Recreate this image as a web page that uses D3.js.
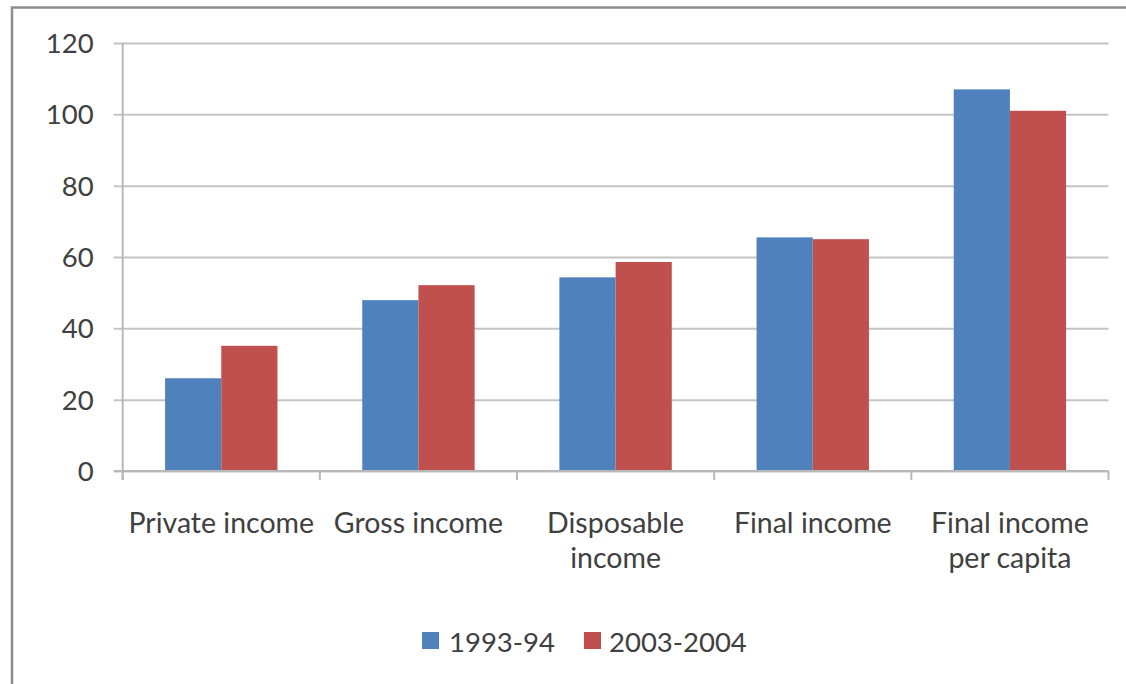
<!DOCTYPE html>
<html>
<head>
<meta charset="utf-8">
<script src="https://cdn.jsdelivr.net/npm/d3@7"></script>
<style>
  html, body { margin: 0; padding: 0; background: #fff; }
  svg { display: block; }
  text { font-family: Lato, "Open Sans", sans-serif; fill: #404040; }
</style>
</head>
<body>
<svg id="chart" width="1126" height="684"></svg>
<script>
// Income categories (line breaks mark where the axis label wraps)
const categories = [
  "Private income",
  "Gross income",
  "Disposable\nincome",
  "Final income",
  "Final income\nper capita"
];
const seriesNames = ["1993-94", "2003-2004"];
const values1993 = [26, 47.9, 54.3, 65.5, 107];
const values2003 = [35.1, 52.1, 58.6, 65, 101];
const yTicks = [0, 20, 40, 60, 80, 100, 120];
const colors = ["#4F81BD", "#C0504D"];

const svg = d3.select("#chart");

// outer chart frame (right and bottom edges fall outside the view)
svg.append("rect")
  .attr("x", 12).attr("y", 7.5)
  .attr("width", 1200).attr("height", 800)
  .attr("fill", "#fff")
  .attr("stroke", "#8c8c8c")
  .attr("stroke-width", 2.5);

const plot = { left: 122.7, right: 1108.5, top: 43, bottom: 471 };

const x0 = d3.scaleBand()
  .domain(categories)
  .range([plot.left, plot.right])
  .paddingInner(0.43)
  .paddingOuter(0.215);

const x1 = d3.scaleBand()
  .domain(seriesNames)
  .range([0, x0.bandwidth()]);

const y = d3.scaleLinear()
  .domain([0, 120])
  .range([plot.bottom, plot.top]);

// horizontal gridlines with small outside ticks
const yAxis = d3.axisLeft(y)
  .tickValues(yTicks)
  .tickSize(-(plot.right - plot.left))
  .tickPadding(30)
  .tickFormat(d3.format("d"));

const gy = svg.append("g")
  .attr("transform", `translate(${plot.left},0)`)
  .call(yAxis);
gy.select(".domain").remove();
gy.selectAll(".tick line")
  .attr("x1", -9)
  .attr("stroke", "#c4c4c4")
  .attr("stroke-width", 2);
gy.selectAll(".tick text")
  .attr("x", -29)
  .attr("dy", "0.35em")
  .style("font-size", "27.5px")
  .style("fill", "#404040");

// vertical value axis line
svg.append("line")
  .attr("x1", plot.left).attr("x2", plot.left)
  .attr("y1", plot.top).attr("y2", plot.bottom + 9)
  .attr("stroke", "#b8b8b8").attr("stroke-width", 2);

// bars
const rows = categories.map((c, i) => ({
  category: c,
  vals: [values1993[i], values2003[i]]
}));

const groups = svg.append("g").selectAll("g")
  .data(rows)
  .join("g")
  .attr("transform", d => `translate(${x0(d.category)},0)`);

groups.selectAll("rect")
  .data(d => d.vals.map((v, j) => ({ name: seriesNames[j], value: v, j })))
  .join("rect")
  .attr("x", d => x1(d.name))
  .attr("y", d => y(d.value))
  .attr("width", x1.bandwidth())
  .attr("height", d => y(0) - y(d.value))
  .attr("fill", d => colors[d.j]);

// category axis: baseline plus boundary ticks
const step = x0.step();
svg.append("line")
  .attr("x1", plot.left - 9).attr("x2", plot.right)
  .attr("y1", plot.bottom).attr("y2", plot.bottom)
  .attr("stroke", "#b8b8b8").attr("stroke-width", 2);
svg.append("g").selectAll("line")
  .data(d3.range(categories.length + 1))
  .join("line")
  .attr("x1", i => plot.left + i * step)
  .attr("x2", i => plot.left + i * step)
  .attr("y1", plot.bottom)
  .attr("y2", plot.bottom + 9)
  .attr("stroke", "#b8b8b8").attr("stroke-width", 2);

// category labels
const labels = svg.append("g").selectAll("text")
  .data(categories)
  .join("text")
  .attr("text-anchor", "middle")
  .attr("x", d => x0(d) + x0.bandwidth() / 2)
  .attr("y", 532.5)
  .style("font-size", "28.5px");
labels.selectAll("tspan")
  .data(d => d.split("\n").map(t => ({ t, x: x0(d) + x0.bandwidth() / 2 })))
  .join("tspan")
  .attr("x", d => d.x)
  .attr("dy", (d, i) => i === 0 ? 0 : 35.5)
  .text(d => d.t);

// legend
const legendItems = [
  { name: seriesNames[0], sx: 422, tx: 449 },
  { name: seriesNames[1], sx: 584, tx: 609 }
];
const legend = svg.append("g");
legend.selectAll("rect")
  .data(legendItems)
  .join("rect")
  .attr("x", d => d.sx).attr("y", 632)
  .attr("width", 17).attr("height", 17)
  .attr("fill", (d, i) => colors[i]);
legend.selectAll("text")
  .data(legendItems)
  .join("text")
  .attr("x", d => d.tx).attr("y", 651.5)
  .style("font-size", "27.5px")
  .text(d => d.name);
</script>
</body>
</html>
